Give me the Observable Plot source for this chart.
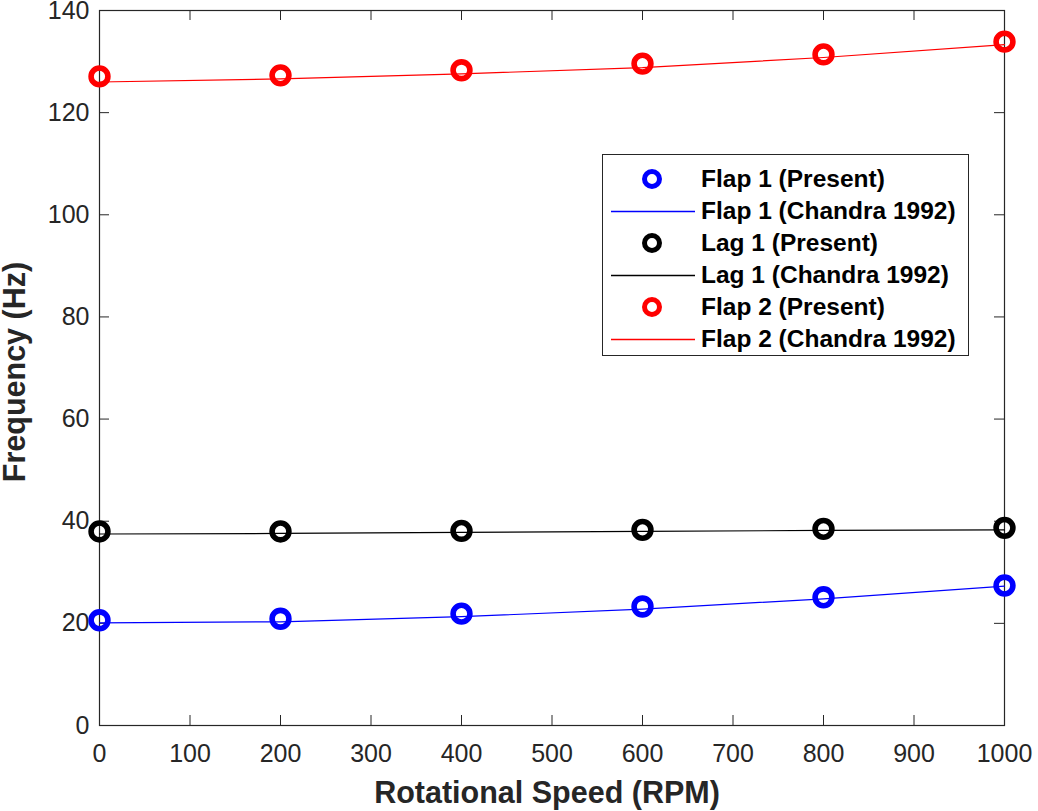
<!DOCTYPE html>
<html>
<head>
<meta charset="utf-8">
<script src="https://cdn.jsdelivr.net/npm/d3@7"></script>
<script src="https://cdn.jsdelivr.net/npm/@observablehq/plot@0.6"></script>
<style>
  body { margin: 0; background: #fff; }
  #wrap { position: relative; width: 1038px; height: 811px; font-family: "Liberation Sans", Arial, Helvetica, sans-serif; }
  #legend { position: absolute; left: 602px; top: 154px; width: 367px; height: 202px; border: 1px solid #262626; background: #fff; box-sizing: border-box; }
  .row { position: absolute; left: 0; height: 32px; }
  .row svg { position: absolute; left: 6px; top: 0; }
  .row span { position: absolute; left: 98px; white-space: nowrap; font-size: 24.5px; font-weight: bold; color: #000; line-height: 32px; top: 0; }
</style>
</head>
<body>
<div id="wrap"></div>
<script>
// ---- data ----
const rpm = [0, 200, 400, 600, 800, 1000];
const flap1Present = [20.6, 20.9, 21.9, 23.3, 25.1, 27.4];
const lag1Present  = [38.0, 38.0, 38.1, 38.3, 38.5, 38.7];
const flap2Present = [127.1, 127.3, 128.3, 129.6, 131.4, 133.9];
const flap1Chandra = [20.1, 20.3, 21.3, 22.8, 24.8, 27.3];
const lag1Chandra  = [37.5, 37.6, 37.8, 38.0, 38.2, 38.3];
const flap2Chandra = [126.0, 126.6, 127.6, 128.8, 130.8, 133.3];
const xTicks = [0, 100, 200, 300, 400, 500, 600, 700, 800, 900, 1000];
const yTicks = [0, 20, 40, 60, 80, 100, 120, 140];
const seriesNames = ["Flap 1", "Lag 1", "Flap 2"];
const seriesColors = ["#0000ff", "#000000", "#ff0000"];
const xLabel = "Rotational Speed (RPM)";
const yLabel = "Frequency (Hz)";

const presentSets = [flap1Present, lag1Present, flap2Present];
const chandraSets = [flap1Chandra, lag1Chandra, flap2Chandra];

const W = 1038, H = 811;
const mL = 99, mR = 34, mT = 10, mB = 86;
const pw = W - mL - mR, ph = H - mT - mB;
const tickLen = 10;
const ink = "#262626";
const font = '"Liberation Sans", Arial, Helvetica, sans-serif';

const lineMarks = [], dotMarks = [];
seriesNames.forEach((name, i) => {
  const lineData = rpm.map((r, j) => ({x: r, y: chandraSets[i][j]}));
  const dotData = rpm.map((r, j) => ({x: r, y: presentSets[i][j]}));
  lineMarks.push(Plot.line(lineData, {x: "x", y: "y", stroke: seriesColors[i], strokeWidth: 1.2}));
  dotMarks.push(Plot.dot(dotData, {x: "x", y: "y", r: 8.4, stroke: seriesColors[i], strokeWidth: 5.6, fill: "none"}));
});

const chart = Plot.plot({
  width: W, height: H,
  marginLeft: mL, marginRight: mR, marginTop: mT, marginBottom: mB,
  style: {fontFamily: font, background: "#fff", overflow: "visible"},
  x: {domain: [0, 1000], axis: null},
  y: {domain: [0, 140], axis: null},
  marks: [
    Plot.ruleX(xTicks, {x: d => d, insetTop: ph - tickLen, stroke: ink, strokeWidth: 1}),
    Plot.ruleX(xTicks, {x: d => d, insetBottom: ph - tickLen, stroke: ink, strokeWidth: 1}),
    Plot.ruleY(yTicks, {y: d => d, insetRight: pw - tickLen, stroke: ink, strokeWidth: 1}),
    Plot.ruleY(yTicks, {y: d => d, insetLeft: pw - tickLen, stroke: ink, strokeWidth: 1}),
    Plot.frame({stroke: ink, strokeWidth: 1.2}),
    ...dotMarks,
    ...lineMarks,
    Plot.axisX(xTicks, {tickSize: 0, tickPadding: 19, fontSize: 25, fill: ink, label: null, tickFormat: d => String(d)}),
    Plot.axisY(yTicks, {tickSize: 0, tickPadding: 10, fontSize: 25, fill: ink, label: null, tickFormat: d => String(d)}),
    Plot.text([xLabel], {frameAnchor: "bottom", dx: -5, dy: 77, lineAnchor: "bottom", textAnchor: "middle", fontSize: 30.5, fontWeight: "bold", fill: ink}),
    Plot.text([yLabel], {frameAnchor: "left", dx: -84, dy: 4, rotate: -90, lineAnchor: "middle", textAnchor: "middle", fontSize: 30.5, fontWeight: "bold", fill: ink})
  ]
});

const wrap = document.getElementById("wrap");
wrap.appendChild(chart);

// legend
const legend = document.createElement("div");
legend.id = "legend";
const rows = [];
seriesNames.forEach((name, i) => {
  rows.push({label: name + " (Present)", color: seriesColors[i], kind: "dot"});
  rows.push({label: name + " (Chandra 1992)", color: seriesColors[i], kind: "line"});
});
rows.forEach((r, k) => {
  const row = document.createElement("div");
  row.className = "row";
  row.style.top = (8 + k * 32) + "px";
  row.style.width = "100%";
  const sym = r.kind === "dot"
    ? `<svg width="90" height="32"><circle cx="43" cy="16" r="7.5" fill="none" stroke="${r.color}" stroke-width="5"/></svg>`
    : `<svg width="90" height="32"><line x1="2" x2="86" y1="16.5" y2="16.5" stroke="${r.color}" stroke-width="1.4"/></svg>`;
  row.innerHTML = sym + `<span>${r.label}</span>`;
  legend.appendChild(row);
});
wrap.appendChild(legend);
</script>
</body>
</html>
